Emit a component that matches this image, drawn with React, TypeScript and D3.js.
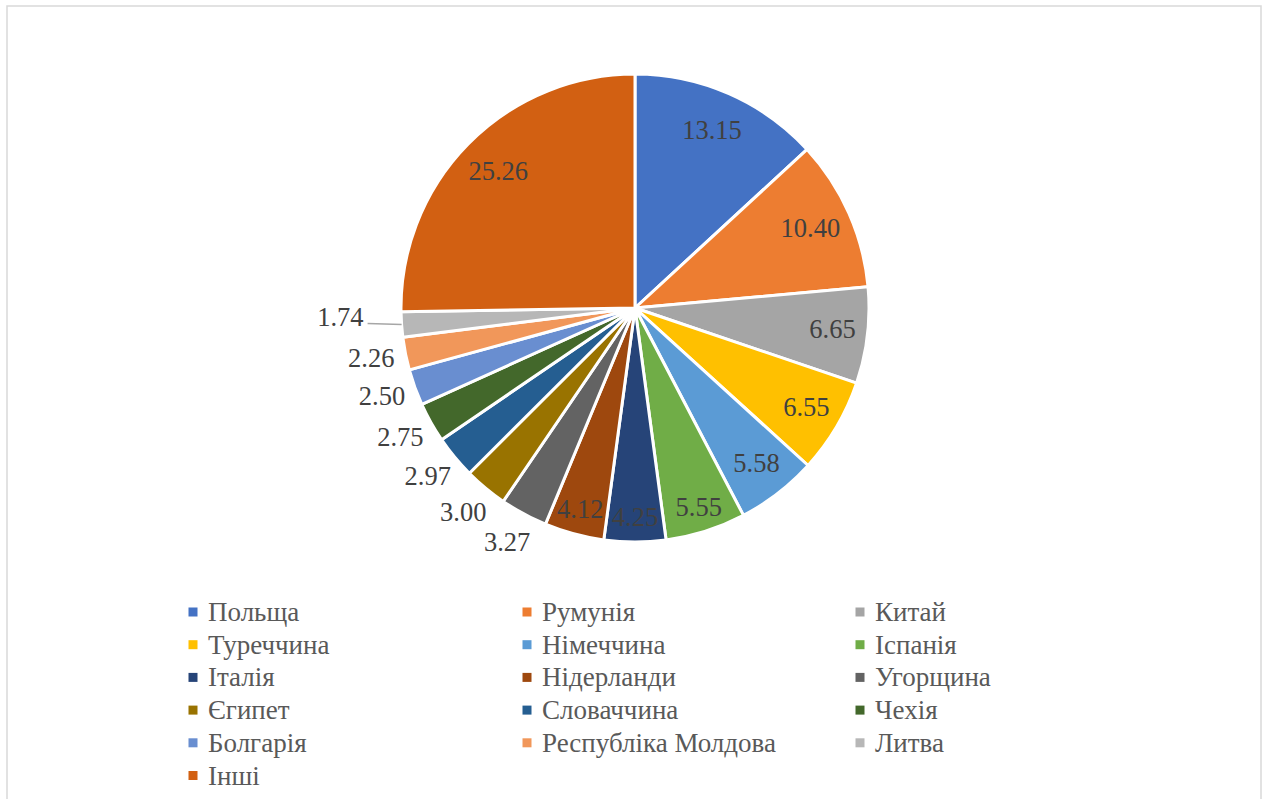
import React from "react";
import * as d3 from "d3";

const categories = [
  "Польща", "Румунія", "Китай", "Туреччина", "Німеччина", "Іспанія",
  "Італія", "Нідерланди", "Угорщина", "Єгипет", "Словаччина", "Чехія",
  "Болгарія", "Республіка Молдова", "Литва", "Інші",
];
const values = [13.15, 10.40, 6.65, 6.55, 5.58, 5.55, 4.25, 4.12, 3.27, 3.00, 2.97, 2.75, 2.50, 2.26, 1.74, 25.26];
const colors = [
  "#4472C4", "#ED7D31", "#A5A5A5", "#FFC000", "#5B9BD5", "#70AD47",
  "#264478", "#9E480E", "#636363", "#997300", "#255E91", "#43682B",
  "#698ED0", "#F1975A", "#B7B7B7", "#D26012",
];
// label placement: in = inside slice, out = outside, leader = outside with a leader line
const placement = ["in", "in", "in", "in", "in", "in", "in", "in", "out", "out", "out", "out", "out", "out", "leader", "in"];

const W = 1267, H = 799;
const cx = 635, cy = 308, R = 234;

export default function App() {
  const pie = d3.pie<number>().sort(null).value((d) => d);
  const arcs = pie(values);
  const arc = d3.arc<d3.PieArcDatum<number>>().innerRadius(0).outerRadius(R);

  const polar = (r: number, a: number) => [r * Math.sin(a), -r * Math.cos(a)];

  const legendCols = [193, 527, 860];
  const legendY0 = 612, legendDy = 32.7;
  const labelSize = 26.5;

  return (
    <svg width={W} height={H} style={{ position: "absolute", left: 0, top: 0, background: "#fff" }}
      fontFamily="'Liberation Serif', 'Times New Roman', serif">
      <rect x={7} y={6} width={1254} height={820} fill="#fff" stroke="#D9D9D9" strokeWidth={1.5} />
      <g transform={`translate(${cx},${cy})`}>
        {arcs.map((a, i) => (
          <path key={i} d={arc(a) || ""} fill={colors[i]} stroke="#fff" strokeWidth={3} strokeLinejoin="round" />
        ))}
        {arcs.map((a, i) => {
          const mid = (a.startAngle + a.endAngle) / 2;
          const p = placement[i];
          const label = values[i].toFixed(2);
          if (p === "in") {
            const v = values[i];
            const rr = v <= 5.55 ? 0.9 * R : v < 10 ? 0.85 * R : 0.82 * R;
            const [x, y] = polar(rr, mid);
            return (
              <text key={i} x={x} y={y - 2} textAnchor="middle" dominantBaseline="central" fontSize={labelSize} fill="#404040">{label}</text>
            );
          }
          if (p === "out") {
            const [x, y] = polar(R + 35, mid);
            return (
              <text key={i} x={x} y={y - 3} textAnchor="middle" dominantBaseline="central" fontSize={labelSize} fill="#404040">{label}</text>
            );
          }
          const [ex, ey] = polar(R, mid);
          const tx = ex - 38;
          return (
            <g key={i}>
              <path d={`M${ex},${ey}L${tx + 4},${ey - 1}`} stroke="#A6A6A6" strokeWidth={1.5} fill="none" />
              <text x={tx} y={ey - 8} textAnchor="end" dominantBaseline="central" fontSize={labelSize} fill="#404040">{label}</text>
            </g>
          );
        })}
      </g>
      <g>
        {categories.map((c, i) => {
          const col = i % 3, row = Math.floor(i / 3);
          const x = legendCols[col], y = legendY0 + row * legendDy;
          return (
            <g key={i}>
              <rect x={x - 4.5} y={y - 4.5} width={9} height={9} fill={colors[i]} />
              <text x={x + 15} y={y} dominantBaseline="central" fontSize={27} fill="#595959">{c}</text>
            </g>
          );
        })}
      </g>
    </svg>
  );
}
